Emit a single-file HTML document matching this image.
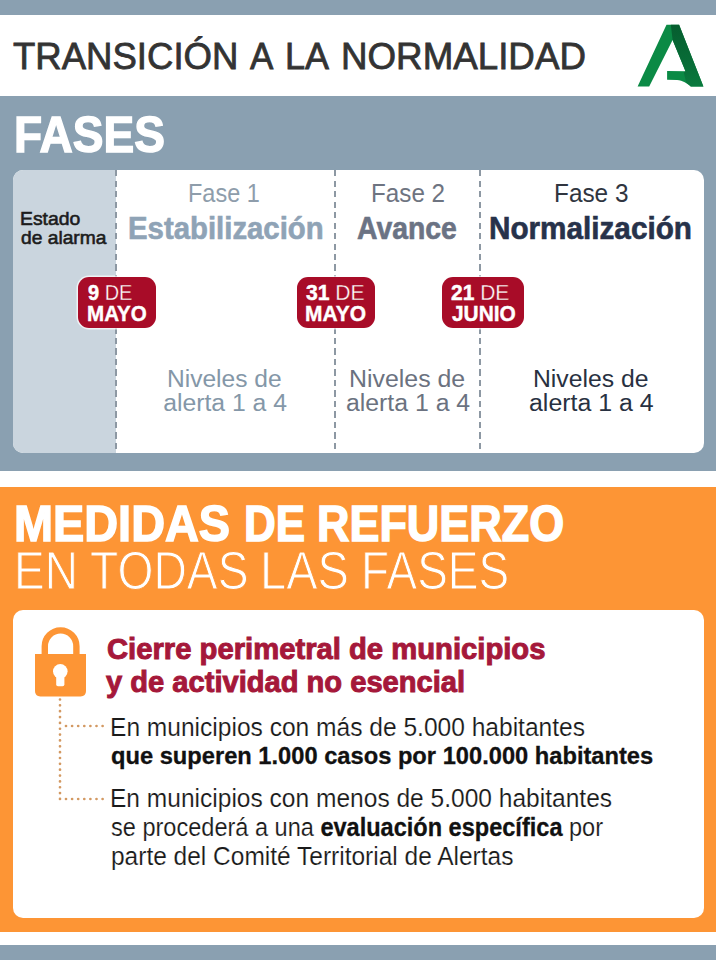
<!DOCTYPE html>
<html lang="es">
<head>
<meta charset="utf-8">
<title>Transición a la normalidad</title>
<style>
html,body{margin:0;padding:0;}
body{width:716px;height:960px;position:relative;overflow:hidden;background:#8aa0b1;font-family:"Liberation Sans",sans-serif;}
.t{position:absolute;white-space:nowrap;transform-origin:0 0;font-family:"Liberation Sans",sans-serif;}
.t b{font-weight:700;}
.thin{font-weight:400;-webkit-text-stroke:0.35px #a80c28;}
.bs{-webkit-text-stroke:0.5px #fff;}
.nb{-webkit-text-stroke:0.3px #111;color:#111;}

.band{position:absolute;left:0;width:716px;}
.dash{position:absolute;width:2px;background:repeating-linear-gradient(to bottom,#8d98a3 0,#8d98a3 6px,transparent 6px,transparent 10.5px);}
.badge{position:absolute;top:277px;height:51px;background:#a80c28;border-radius:11px;box-shadow:0 0 0 1.5px rgba(255,255,255,0.7);}
.dot{position:absolute;}
</style>
</head>
<body>
<!-- header band -->
<div class="band" style="top:15px;height:81px;background:#ffffff;"></div>
<!-- logo -->
<svg style="position:absolute;left:630px;top:20px;" width="80" height="72" viewBox="630 20 80 72">
  <defs><linearGradient id="rg" x1="0" y1="0" x2="0" y2="1"><stop offset="0" stop-color="#065e2f"/><stop offset="0.6" stop-color="#086c37"/><stop offset="1" stop-color="#0a7a3e"/></linearGradient></defs>
  <path d="M637.6 86.5 L666.5 24.8 L679.1 24.8 L703.4 86.4 L690.8 86.4 C687 83.5 683 80.4 677 80 L667.1 79.8 L667.1 70.9 L685.5 71.2 L672.6 40 L649.2 86.5 Z" fill="#0b8a45"/>
  <path d="M672.6 40 L670.8 24.8 L679.1 24.8 L703.4 86.4 L690.8 86.4 C689 85 687.5 83.6 686 82.3 L683.8 72.6 L685.5 71.2 Z" fill="url(#rg)"/>
</svg>

<!-- timeline card -->
<div style="position:absolute;left:13px;top:170px;width:691px;height:283px;background:#ffffff;border-radius:10px;overflow:hidden;">
  <div style="position:absolute;left:0;top:0;width:103px;height:283px;background:#cad5de;"></div>
</div>
<div class="dash" style="left:115px;top:170px;height:283px;"></div>
<div class="dash" style="left:334px;top:170px;height:283px;"></div>
<div class="dash" style="left:479px;top:170px;height:283px;"></div>

<div class="badge" style="left:77.5px;width:78px;"></div>
<div class="badge" style="left:296.5px;width:78px;"></div>
<div class="badge" style="left:441.5px;width:82px;"></div>

<!-- white separator & orange section -->
<div class="band" style="top:471px;height:16px;background:#ffffff;"></div>
<div class="band" style="top:487px;height:445px;background:#fd9535;"></div>
<div class="band" style="top:932px;height:12.5px;background:#ffffff;"></div>

<!-- white card in orange -->
<div style="position:absolute;left:13px;top:609.5px;width:691px;height:308.5px;background:#ffffff;border-radius:10px;"></div>

<!-- padlock -->
<svg style="position:absolute;left:30px;top:620px;" width="64" height="82" viewBox="30 620 64 82">
  <path d="M44.8 655 L44.8 646.2 A15.8 15.8 0 0 1 76.4 646.2 L76.4 655" fill="none" stroke="#fd9535" stroke-width="6.4"/>
  <path d="M35 654 L86 654 L86 691 Q86 696.4 80.6 696.4 L40.4 696.4 Q35 696.4 35 691 Z" fill="#fd9535"/>
  <circle cx="60.3" cy="671.3" r="7.3" fill="#ffffff"/>
  <path d="M56.2 672 L64.4 672 L64.4 684.5 Q64.4 686.3 62.6 686.3 L58 686.3 Q56.2 686.3 56.2 684.5 Z" fill="#ffffff"/>
</svg>

<!-- dotted connectors -->
<svg style="position:absolute;left:50px;top:695px;" width="60" height="110" viewBox="50 695 60 110">
  <line x1="60" y1="699.5" x2="60" y2="799" stroke="#d39962" stroke-width="2.7" stroke-linecap="round" stroke-dasharray="0 5.85"/>
  <line x1="66" y1="726" x2="104" y2="726" stroke="#d39962" stroke-width="2.7" stroke-linecap="round" stroke-dasharray="0 6.1"/>
  <line x1="66" y1="799" x2="104" y2="799" stroke="#d39962" stroke-width="2.7" stroke-linecap="round" stroke-dasharray="0 6.1"/>
</svg>

<div class="t" style="left:12.90px;top:38.37px;color:#333333;font-family:'Liberation Sans', sans-serif;font-size:37.75px;line-height:37.75px;font-weight:400;white-space:nowrap;-webkit-text-stroke:0.8px #333333;transform:scaleX(0.9680);">TRANSICIÓN</div>
<div class="t" style="left:249.90px;top:38.37px;color:#333333;font-family:'Liberation Sans', sans-serif;font-size:37.75px;line-height:37.75px;font-weight:400;white-space:nowrap;-webkit-text-stroke:0.8px #333333;transform:scaleX(0.9269);">A</div>
<div class="t" style="left:285.09px;top:38.37px;color:#333333;font-family:'Liberation Sans', sans-serif;font-size:37.75px;line-height:37.75px;font-weight:400;white-space:nowrap;-webkit-text-stroke:0.8px #333333;transform:scaleX(0.9533);">LA</div>
<div class="t" style="left:341.35px;top:38.37px;color:#333333;font-family:'Liberation Sans', sans-serif;font-size:37.75px;line-height:37.75px;font-weight:400;white-space:nowrap;-webkit-text-stroke:0.8px #333333;transform:scaleX(0.9731);">NORMALIDAD</div>
<div class="t" style="left:14.37px;top:110.17px;color:#ffffff;font-family:'Liberation Sans', sans-serif;font-size:50.25px;line-height:50.25px;font-weight:700;white-space:nowrap;-webkit-text-stroke:1.4px #ffffff;transform:scaleX(0.9167);">FASES</div>
<div class="t" style="left:187.53px;top:180.40px;color:#8e9dab;font-family:'Liberation Sans', sans-serif;font-size:26.5px;line-height:26.5px;font-weight:400;white-space:nowrap;transform:scaleX(0.8859);">Fase 1</div>
<div class="t" style="left:371.17px;top:180.40px;color:#6e7481;font-family:'Liberation Sans', sans-serif;font-size:26.5px;line-height:26.5px;font-weight:400;white-space:nowrap;transform:scaleX(0.9141);">Fase 2</div>
<div class="t" style="left:553.96px;top:180.40px;color:#30353f;font-family:'Liberation Sans', sans-serif;font-size:26.5px;line-height:26.5px;font-weight:400;white-space:nowrap;transform:scaleX(0.9192);">Fase 3</div>
<div class="t" style="left:128.34px;top:213.05px;color:#8fa3b6;font-family:'Liberation Sans', sans-serif;font-size:30.5px;line-height:30.5px;font-weight:700;white-space:nowrap;-webkit-text-stroke:0.6px #8fa3b6;transform:scaleX(0.9622);">Estabilización</div>
<div class="t" style="left:357.30px;top:213.05px;color:#6b7384;font-family:'Liberation Sans', sans-serif;font-size:30.5px;line-height:30.5px;font-weight:700;white-space:nowrap;-webkit-text-stroke:0.6px #6b7384;transform:scaleX(0.9299);">Avance</div>
<div class="t" style="left:489.03px;top:213.05px;color:#27324a;font-family:'Liberation Sans', sans-serif;font-size:30.5px;line-height:30.5px;font-weight:700;white-space:nowrap;-webkit-text-stroke:0.6px #27324a;transform:scaleX(0.9733);">Normalización</div>
<div class="t" style="left:20.19px;top:209.10px;color:#1c1c1c;font-family:'Liberation Sans', sans-serif;font-size:19.25px;line-height:19.25px;font-weight:400;white-space:nowrap;-webkit-text-stroke:0.6px #1c1c1c;transform:scaleX(1.0068);">Estado</div>
<div class="t" style="left:21.20px;top:227.60px;color:#1c1c1c;font-family:'Liberation Sans', sans-serif;font-size:19.25px;line-height:19.25px;font-weight:400;white-space:nowrap;-webkit-text-stroke:0.6px #1c1c1c;transform:scaleX(0.9977);">de alarma</div>
<div class="t" style="left:167.22px;top:367.40px;color:#8497a8;font-family:'Liberation Sans', sans-serif;font-size:24.75px;line-height:24.75px;font-weight:400;white-space:nowrap;transform:scaleX(0.9920);">Niveles de</div>
<div class="t" style="left:163.20px;top:391.30px;color:#8497a8;font-family:'Liberation Sans', sans-serif;font-size:24.75px;line-height:24.75px;font-weight:400;white-space:nowrap;">alerta 1 a 4</div>
<div class="t" style="left:349.39px;top:367.40px;color:#6b7280;font-family:'Liberation Sans', sans-serif;font-size:24.75px;line-height:24.75px;font-weight:400;white-space:nowrap;transform:scaleX(1.0053);">Niveles de</div>
<div class="t" style="left:346.20px;top:391.30px;color:#6b7280;font-family:'Liberation Sans', sans-serif;font-size:24.75px;line-height:24.75px;font-weight:400;white-space:nowrap;transform:scaleX(1.0025);">alerta 1 a 4</div>
<div class="t" style="left:532.90px;top:367.40px;color:#283141;font-family:'Liberation Sans', sans-serif;font-size:24.75px;line-height:24.75px;font-weight:400;white-space:nowrap;">Niveles de</div>
<div class="t" style="left:529.19px;top:391.30px;color:#283141;font-family:'Liberation Sans', sans-serif;font-size:24.75px;line-height:24.75px;font-weight:400;white-space:nowrap;transform:scaleX(1.0066);">alerta 1 a 4</div>
<div class="t" style="left:87.60px;top:280.90px;color:#ffffff;font-family:'Liberation Sans', sans-serif;font-size:22.75px;line-height:22.75px;font-weight:400;white-space:nowrap;transform:scaleX(0.8780);"><b class="bs">9</b> <span class="thin">DE</span></div>
<div class="t" style="left:86.97px;top:302.75px;color:#ffffff;font-family:'Liberation Sans', sans-serif;font-size:22.0px;line-height:22.0px;font-weight:700;white-space:nowrap;-webkit-text-stroke:0.4px #ffffff;transform:scaleX(0.9349);">MAYO</div>
<div class="t" style="left:305.70px;top:280.90px;color:#ffffff;font-family:'Liberation Sans', sans-serif;font-size:22.75px;line-height:22.75px;font-weight:400;white-space:nowrap;transform:scaleX(0.9274);"><b class="bs">31</b> <span class="thin">DE</span></div>
<div class="t" style="left:305.05px;top:302.75px;color:#ffffff;font-family:'Liberation Sans', sans-serif;font-size:22.0px;line-height:22.0px;font-weight:700;white-space:nowrap;-webkit-text-stroke:0.4px #ffffff;transform:scaleX(0.9524);">MAYO</div>
<div class="t" style="left:451.00px;top:280.90px;color:#ffffff;font-family:'Liberation Sans', sans-serif;font-size:22.75px;line-height:22.75px;font-weight:400;white-space:nowrap;transform:scaleX(0.9226);"><b class="bs">21</b> <span class="thin">DE</span></div>
<div class="t" style="left:451.60px;top:302.75px;color:#ffffff;font-family:'Liberation Sans', sans-serif;font-size:22.0px;line-height:22.0px;font-weight:700;white-space:nowrap;-webkit-text-stroke:0.4px #ffffff;transform:scaleX(0.9493);">JUNIO</div>
<div class="t" style="left:14.20px;top:498.77px;color:#ffffff;font-family:'Liberation Sans', sans-serif;font-size:49.25px;line-height:49.25px;font-weight:700;white-space:nowrap;-webkit-text-stroke:1.5px #ffffff;transform:scaleX(0.9513);">MEDIDAS</div>
<div class="t" style="left:243.52px;top:498.77px;color:#ffffff;font-family:'Liberation Sans', sans-serif;font-size:49.25px;line-height:49.25px;font-weight:700;white-space:nowrap;-webkit-text-stroke:1.5px #ffffff;transform:scaleX(0.8923);">DE</div>
<div class="t" style="left:317.48px;top:498.77px;color:#ffffff;font-family:'Liberation Sans', sans-serif;font-size:49.25px;line-height:49.25px;font-weight:700;white-space:nowrap;-webkit-text-stroke:1.5px #ffffff;transform:scaleX(0.9123);">REFUERZO</div>
<div class="t" style="left:14.04px;top:545.30px;color:#ffffff;font-family:'Liberation Sans', sans-serif;font-size:52.75px;line-height:52.75px;font-weight:400;white-space:nowrap;-webkit-text-stroke:1.0px #fd9535;transform:scaleX(0.8719);">EN</div>
<div class="t" style="left:89.55px;top:545.30px;color:#ffffff;font-family:'Liberation Sans', sans-serif;font-size:52.75px;line-height:52.75px;font-weight:400;white-space:nowrap;-webkit-text-stroke:1.0px #fd9535;transform:scaleX(0.8767);">TODAS</div>
<div class="t" style="left:259.64px;top:545.30px;color:#ffffff;font-family:'Liberation Sans', sans-serif;font-size:52.75px;line-height:52.75px;font-weight:400;white-space:nowrap;-webkit-text-stroke:1.0px #fd9535;transform:scaleX(0.8924);">LAS</div>
<div class="t" style="left:361.05px;top:545.30px;color:#ffffff;font-family:'Liberation Sans', sans-serif;font-size:52.75px;line-height:52.75px;font-weight:400;white-space:nowrap;-webkit-text-stroke:1.0px #fd9535;transform:scaleX(0.8710);">FASES</div>
<div class="t" style="left:107.00px;top:633.97px;color:#a5183a;font-family:'Liberation Sans', sans-serif;font-size:30.25px;line-height:30.25px;font-weight:700;white-space:nowrap;-webkit-text-stroke:1.0px #a5183a;transform:scaleX(0.9660);">Cierre perimetral de municipios</div>
<div class="t" style="left:106.40px;top:667.47px;color:#a5183a;font-family:'Liberation Sans', sans-serif;font-size:30.25px;line-height:30.25px;font-weight:700;white-space:nowrap;-webkit-text-stroke:1.0px #a5183a;transform:scaleX(0.9621);">y de actividad no esencial</div>
<div class="t" style="left:109.94px;top:714.89px;color:#1a1a1a;font-family:'Liberation Sans', sans-serif;font-size:25.0px;line-height:25.0px;font-weight:400;white-space:nowrap;-webkit-text-stroke:0.15px #ffffff;transform:scaleX(0.9821);">En municipios con más de 5.000 habitantes</div>
<div class="t" style="left:110.72px;top:744.35px;color:#111111;font-family:'Liberation Sans', sans-serif;font-size:24.25px;line-height:24.25px;font-weight:400;white-space:nowrap;-webkit-text-stroke:0.3px #111111;transform:scaleX(0.9764);"><b>que superen 1.000 casos por 100.000 habitantes</b></div>
<div class="t" style="left:109.94px;top:786.19px;color:#1a1a1a;font-family:'Liberation Sans', sans-serif;font-size:25.0px;line-height:25.0px;font-weight:400;white-space:nowrap;-webkit-text-stroke:0.15px #ffffff;transform:scaleX(0.9817);">En municipios con menos de 5.000 habitantes</div>
<div class="t" style="left:110.76px;top:815.39px;color:#1a1a1a;font-family:'Liberation Sans', sans-serif;font-size:25.0px;line-height:25.0px;font-weight:400;white-space:nowrap;-webkit-text-stroke:0.15px #ffffff;transform:scaleX(0.9416);">se procederá a una <b class="nb">evaluación específica</b> por</div>
<div class="t" style="left:110.72px;top:844.49px;color:#1a1a1a;font-family:'Liberation Sans', sans-serif;font-size:25.0px;line-height:25.0px;font-weight:400;white-space:nowrap;-webkit-text-stroke:0.15px #ffffff;transform:scaleX(0.9795);">parte del Comité Territorial de Alertas</div>
</body>
</html>
